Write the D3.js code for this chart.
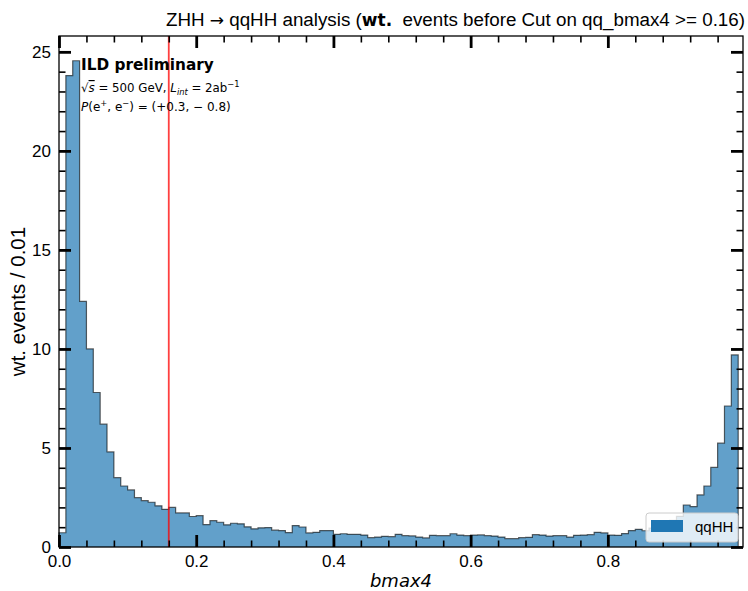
<!DOCTYPE html>
<html><head><meta charset="utf-8">
<script src="https://cdn.jsdelivr.net/npm/d3@7"></script>
<style>body{margin:0;background:#fff} svg{display:block} text{white-space:pre}</style>
</head><body>
<svg id="c" width="748" height="591"></svg>
<script>
// ---- data ----
const binLow = 0.0;
const binWidth = 0.01;
const counts = [
  0.72, 23.8, 24.55, 12.4, 10.0, 7.8, 6.2, 4.8, 3.5, 3.08,
  2.88, 2.49, 2.34, 2.26, 2.08, 1.90, 2.0, 1.72, 1.72, 1.54,
  1.58, 1.13, 1.33, 1.25, 1.12, 1.2, 1.17, 1.02, 0.92, 0.97,
  0.98, 0.85, 0.83, 0.73, 1.08, 1.01, 0.71, 0.74, 0.83, 0.83,
  0.64, 0.67, 0.64, 0.64, 0.6, 0.47, 0.5, 0.54, 0.52, 0.64,
  0.57, 0.56, 0.5, 0.46, 0.59, 0.57, 0.57, 0.67, 0.6, 0.57,
  0.6, 0.61, 0.57, 0.55, 0.5, 0.42, 0.42, 0.47, 0.49, 0.62,
  0.6, 0.55, 0.57, 0.57, 0.5, 0.59, 0.6, 0.62, 0.74, 0.71,
  0.6, 0.59, 0.68, 0.83, 0.89, 0.82, 0.95, 1.05, 1.2, 1.35,
  1.55, 2.12, 2.04, 2.63, 3.08, 4.02, 5.24, 7.12, 9.7
];
const xDomain = [0, 0.997];
const yDomain = [0, 25.8];
const xMajorTicks = [0.0, 0.2, 0.4, 0.6, 0.8];
const xMinorTicks = [0.04, 0.08, 0.12, 0.16, 0.24, 0.28, 0.32, 0.36, 0.44, 0.48, 0.52, 0.56, 0.64, 0.68, 0.72, 0.76, 0.84, 0.88, 0.92, 0.96];
const yMajorTicks = [0, 5, 10, 15, 20, 25];
const yMinorTicks = [1,2,3,4,6,7,8,9,11,12,13,14,16,17,18,19,21,22,23,24];
const cutValue = 0.16;
const seriesName = "qqHH";

// ---- layout ----
const L = 59, R = 743, T = 36, B = 547;
const svg = d3.select('#c');
const x = d3.scaleLinear().domain(xDomain).range([L, R]);
const y = d3.scaleLinear().domain(yDomain).range([B, T]);

// histogram (stepfilled)
const pts = counts.map((v, i) => [binLow + i * binWidth, v]);
const xEnd = binLow + counts.length * binWidth;
pts.push([xEnd, counts[counts.length - 1]]);
const area = d3.area().x(d => x(d[0])).y0(y(0)).y1(d => y(d[1])).curve(d3.curveStepAfter);
svg.append('path').attr('d', area(pts)).attr('fill', '#1f77b4').attr('fill-opacity', 0.7);
const outline = [[binLow, 0]].concat(pts, [[xEnd, 0]]);
const line = d3.line().x(d => x(d[0])).y(d => y(d[1])).curve(d3.curveStepAfter);
svg.append('path').attr('d', line(outline)).attr('fill', 'none')
  .attr('stroke', '#000').attr('stroke-opacity', 0.6).attr('stroke-width', 1.2);

// cut line
svg.append('line').attr('x1', x(cutValue)).attr('x2', x(cutValue)).attr('y1', T).attr('y2', B)
  .attr('stroke', '#ff0000').attr('stroke-opacity', 0.75).attr('stroke-width', 1.8);

// axes
function styleAxis(g, w) {
  g.select('.domain').remove();
  g.selectAll('.tick line').attr('stroke', '#000').attr('stroke-width', w);
  g.selectAll('text').attr('font-family', 'Liberation Sans, Arial, sans-serif').attr('font-size', 17).attr('fill', '#000');
}
const fmtX = d3.format('.1f');
svg.append('g').attr('transform', `translate(0,${B})`)
  .call(d3.axisBottom(x).tickValues(xMinorTicks).tickSize(-6.5).tickFormat(''))
  .call(g => styleAxis(g, 1.6));
svg.append('g').attr('transform', `translate(0,${B})`)
  .call(d3.axisBottom(x).tickValues(xMajorTicks).tickSize(-12).tickPadding(8).tickFormat(fmtX))
  .call(g => styleAxis(g, 2.8));
svg.append('g').attr('transform', `translate(0,${T})`)
  .call(d3.axisTop(x).tickValues(xMinorTicks).tickSize(-6.5).tickFormat(''))
  .call(g => styleAxis(g, 1.6));
svg.append('g').attr('transform', `translate(0,${T})`)
  .call(d3.axisTop(x).tickValues(xMajorTicks).tickSize(-12).tickFormat(''))
  .call(g => styleAxis(g, 2.8));
svg.append('g').attr('transform', `translate(${L},0)`)
  .call(d3.axisLeft(y).tickValues(yMinorTicks).tickSize(-6.5).tickFormat(''))
  .call(g => styleAxis(g, 1.6));
svg.append('g').attr('transform', `translate(${L},0)`)
  .call(d3.axisLeft(y).tickValues(yMajorTicks).tickSize(-12).tickPadding(8).tickFormat(d3.format('d')))
  .call(g => styleAxis(g, 2.8));
svg.append('g').attr('transform', `translate(${R},0)`)
  .call(d3.axisRight(y).tickValues(yMinorTicks).tickSize(-6.5).tickFormat(''))
  .call(g => styleAxis(g, 1.6));
svg.append('g').attr('transform', `translate(${R},0)`)
  .call(d3.axisRight(y).tickValues(yMajorTicks).tickSize(-12).tickFormat(''))
  .call(g => styleAxis(g, 2.8));

// frame
svg.append('rect').attr('x', L).attr('y', T).attr('width', R - L).attr('height', B - T)
  .attr('fill', 'none').attr('stroke', '#000').attr('stroke-width', 1.3);

// axis labels
svg.append('text').attr('transform', `translate(25,${(T + B) / 2 + 10}) rotate(-90)`)
  .attr('text-anchor', 'middle').attr('font-family', 'Liberation Sans, Arial, sans-serif')
  .attr('font-size', 20.5).text('wt. events / 0.01');
svg.append('text').attr('x', (L + R) / 2).attr('y', 587).attr('text-anchor', 'middle')
  .attr('font-family', 'DejaVu Sans').attr('font-style', 'italic').attr('font-size', 18).text('bmax4');

// title
const title = svg.append('text').attr('x', 745).attr('y', 26).attr('text-anchor', 'end')
  .attr('font-family', 'Liberation Sans, Arial, sans-serif').attr('font-size', 18.8);
title.append('tspan').text('ZHH ');
title.append('tspan').attr('font-family', 'DejaVu Sans').attr('font-size', 17).text('→');
title.append('tspan').text(' qqHH analysis (');
title.append('tspan').attr('font-family', 'DejaVu Sans').attr('font-weight', 'bold').attr('font-size', 17).text('wt.');
title.append('tspan').text('  events before Cut on qq_bmax4 >= 0.16)');

// ILD labels
svg.append('text').attr('x', 81).attr('y', 69.5).attr('font-family', 'DejaVu Sans')
  .attr('font-weight', 'bold').attr('font-size', 15.3).text('ILD preliminary');
const l2 = svg.append('text').attr('x', 81).attr('y', 92).attr('font-family', 'DejaVu Sans').attr('font-size', 11.8);
l2.append('tspan').text('√');
l2.append('tspan').attr('font-style', 'italic').attr('text-decoration', 'overline').text('s');
l2.append('tspan').text(' = 500 GeV, ');
l2.append('tspan').attr('font-style', 'italic').text('L');
l2.append('tspan').attr('font-style', 'italic').attr('font-size', 8.3).attr('dy', 2.5).text('int');
l2.append('tspan').attr('dy', -2.5).text(' = 2ab');
l2.append('tspan').attr('font-size', 8.3).attr('dy', -5).text('−1');
const l3 = svg.append('text').attr('x', 81).attr('y', 111).attr('font-family', 'DejaVu Sans').attr('font-size', 12);
l3.append('tspan').attr('font-style', 'italic').text('P');
l3.append('tspan').text('(e');
l3.append('tspan').attr('font-size', 8.3).attr('dy', -5).text('+');
l3.append('tspan').attr('dy', 5).text(', e');
l3.append('tspan').attr('font-size', 8.3).attr('dy', -5).text('−');
l3.append('tspan').attr('dy', 5).text(') = (+0.3, − 0.8)');

// legend
const lg = svg.append('g');
lg.append('rect').attr('x', 646).attr('y', 513).attr('width', 92).attr('height', 29).attr('rx', 3)
  .attr('fill', '#fff').attr('fill-opacity', 0.8).attr('stroke', '#cccccc').attr('stroke-width', 1);
lg.append('rect').attr('x', 651).attr('y', 520).attr('width', 32).attr('height', 12).attr('fill', '#1f77b4');
lg.append('text').attr('x', 695).attr('y', 532).attr('font-family', 'Liberation Sans, Arial, sans-serif')
  .attr('font-size', 15).text(seriesName);
</script>
</body></html>
